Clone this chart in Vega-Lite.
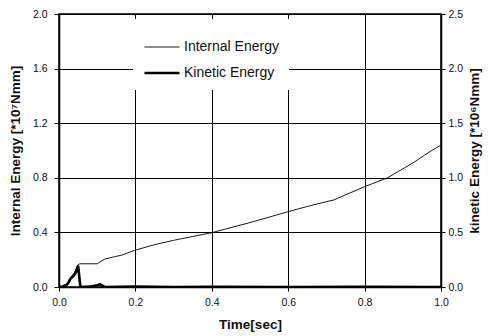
{
  "$schema": "https://vega.github.io/schema/vega-lite/v6.json",
  "width": 382,
  "height": 273,
  "autosize": {"type": "none"},
  "padding": {"left": 59, "top": 14, "right": 51, "bottom": 49},
  "background": "white",
  "config": {
    "font": "Liberation Sans",
    "view": {"stroke": "black", "strokeWidth": 1.5},
    "axis": {
      "domainColor": "black",
      "domainWidth": 1.5,
      "tickColor": "black",
      "tickWidth": 1,
      "gridColor": "black",
      "gridOpacity": 1,
      "gridWidth": 1,
      "labelColor": "#111",
      "labelFontSize": 10.5,
      "titleColor": "#111",
      "titleFontSize": 13.5,
      "titleFontWeight": "bold"
    }
  },
  "data": {
    "values": [
      {"t": 0.0, "value": 0.0, "series": "Internal Energy"},
      {"t": 0.01, "value": 0.005, "series": "Internal Energy"},
      {"t": 0.02, "value": 0.02, "series": "Internal Energy"},
      {"t": 0.03, "value": 0.07, "series": "Internal Energy"},
      {"t": 0.04, "value": 0.1, "series": "Internal Energy"},
      {"t": 0.05, "value": 0.165, "series": "Internal Energy"},
      {"t": 0.055, "value": 0.17, "series": "Internal Energy"},
      {"t": 0.1, "value": 0.17, "series": "Internal Energy"},
      {"t": 0.12, "value": 0.205, "series": "Internal Energy"},
      {"t": 0.14, "value": 0.218, "series": "Internal Energy"},
      {"t": 0.165, "value": 0.234, "series": "Internal Energy"},
      {"t": 0.195, "value": 0.266, "series": "Internal Energy"},
      {"t": 0.25, "value": 0.31, "series": "Internal Energy"},
      {"t": 0.3, "value": 0.342, "series": "Internal Energy"},
      {"t": 0.35, "value": 0.37, "series": "Internal Energy"},
      {"t": 0.4, "value": 0.398, "series": "Internal Energy"},
      {"t": 0.45, "value": 0.435, "series": "Internal Energy"},
      {"t": 0.5, "value": 0.472, "series": "Internal Energy"},
      {"t": 0.55, "value": 0.512, "series": "Internal Energy"},
      {"t": 0.6, "value": 0.552, "series": "Internal Energy"},
      {"t": 0.65, "value": 0.59, "series": "Internal Energy"},
      {"t": 0.7, "value": 0.625, "series": "Internal Energy"},
      {"t": 0.72, "value": 0.638, "series": "Internal Energy"},
      {"t": 0.75, "value": 0.675, "series": "Internal Energy"},
      {"t": 0.8, "value": 0.735, "series": "Internal Energy"},
      {"t": 0.86, "value": 0.8, "series": "Internal Energy"},
      {"t": 0.93, "value": 0.915, "series": "Internal Energy"},
      {"t": 0.97, "value": 0.99, "series": "Internal Energy"},
      {"t": 1.0, "value": 1.04, "series": "Internal Energy"},
      {"t": 0.0, "value": 0.0, "series": "Kinetic Energy"},
      {"t": 0.01, "value": 0.005, "series": "Kinetic Energy"},
      {"t": 0.02, "value": 0.02, "series": "Kinetic Energy"},
      {"t": 0.025, "value": 0.04, "series": "Kinetic Energy"},
      {"t": 0.03, "value": 0.075, "series": "Kinetic Energy"},
      {"t": 0.04, "value": 0.11, "series": "Kinetic Energy"},
      {"t": 0.045, "value": 0.14, "series": "Kinetic Energy"},
      {"t": 0.05, "value": 0.195, "series": "Kinetic Energy"},
      {"t": 0.056, "value": 0.0, "series": "Kinetic Energy"},
      {"t": 0.08, "value": 0.003, "series": "Kinetic Energy"},
      {"t": 0.1, "value": 0.015, "series": "Kinetic Energy"},
      {"t": 0.107, "value": 0.025, "series": "Kinetic Energy"},
      {"t": 0.115, "value": 0.01, "series": "Kinetic Energy"},
      {"t": 0.12, "value": 0.0, "series": "Kinetic Energy"},
      {"t": 0.2, "value": 0.003, "series": "Kinetic Energy"},
      {"t": 0.3, "value": 0.0, "series": "Kinetic Energy"},
      {"t": 0.4, "value": 0.002, "series": "Kinetic Energy"},
      {"t": 0.6, "value": 0.0, "series": "Kinetic Energy"},
      {"t": 0.8, "value": 0.002, "series": "Kinetic Energy"},
      {"t": 1.0, "value": 0.0, "series": "Kinetic Energy"}
    ]
  },
  "encoding": {
    "x": {
      "field": "t",
      "type": "quantitative",
      "scale": {"domain": [0, 1], "nice": false, "zero": false},
      "axis": {
        "title": "Time[sec]",
        "values": [0, 0.2, 0.4, 0.6, 0.8, 1.0],
        "format": ".1f",
        "tickSize": 4,
        "labelPadding": 6,
        "titlePadding": 10,
        "labelFlush": false
      }
    },
    "color": {
      "field": "series",
      "type": "nominal",
      "scale": {"domain": ["Internal Energy", "Kinetic Energy"], "range": ["#000000", "#000000"]},
      "legend": {
        "title": null,
        "orient": "none",
        "legendX": 74,
        "legendY": 5,
        "fillColor": "white",
        "padding": 10,
        "symbolType": "stroke",
        "symbolSize": 1225,
        "labelFontSize": 14,
        "labelFont": "Liberation Sans",
        "labelColor": "#111",
        "labelOffset": 3,
        "rowPadding": 0
      }
    },
    "strokeWidth": {
      "field": "series",
      "type": "nominal",
      "scale": {"domain": ["Internal Energy", "Kinetic Energy"], "range": [0.9, 2.6]},
      "legend": null
    }
  },
  "layer": [
    {
      "transform": [{"filter": "datum.series === 'Internal Energy'"}],
      "mark": {"type": "line", "clip": true},
      "encoding": {
        "y": {
          "field": "value",
          "type": "quantitative",
          "scale": {"domain": [0, 2], "nice": false},
          "axis": {
            "title": "Internal Energy [*10⁷Nmm]",
            "orient": "left",
            "values": [0, 0.4, 0.8, 1.2, 1.6, 2.0],
            "format": ".1f",
            "tickSize": 5,
            "labelPadding": 7,
            "titlePadding": 10
          }
        }
      }
    },
    {
      "transform": [{"filter": "datum.series === 'Kinetic Energy'"}],
      "mark": {"type": "line", "clip": true},
      "encoding": {
        "y": {
          "field": "value",
          "type": "quantitative",
          "scale": {"domain": [0, 2.5], "nice": false},
          "axis": {
            "title": "kinetic Energy [*10⁶Nmm]",
            "orient": "right",
            "values": [0, 0.5, 1.0, 1.5, 2.0, 2.5],
            "format": ".1f",
            "grid": false,
            "tickSize": 4,
            "labelPadding": 3,
            "titlePadding": 5,
            "titleAngle": 270,
            "titleBaseline": "top"
          }
        }
      }
    }
  ],
  "resolve": {"scale": {"y": "independent"}}
}
